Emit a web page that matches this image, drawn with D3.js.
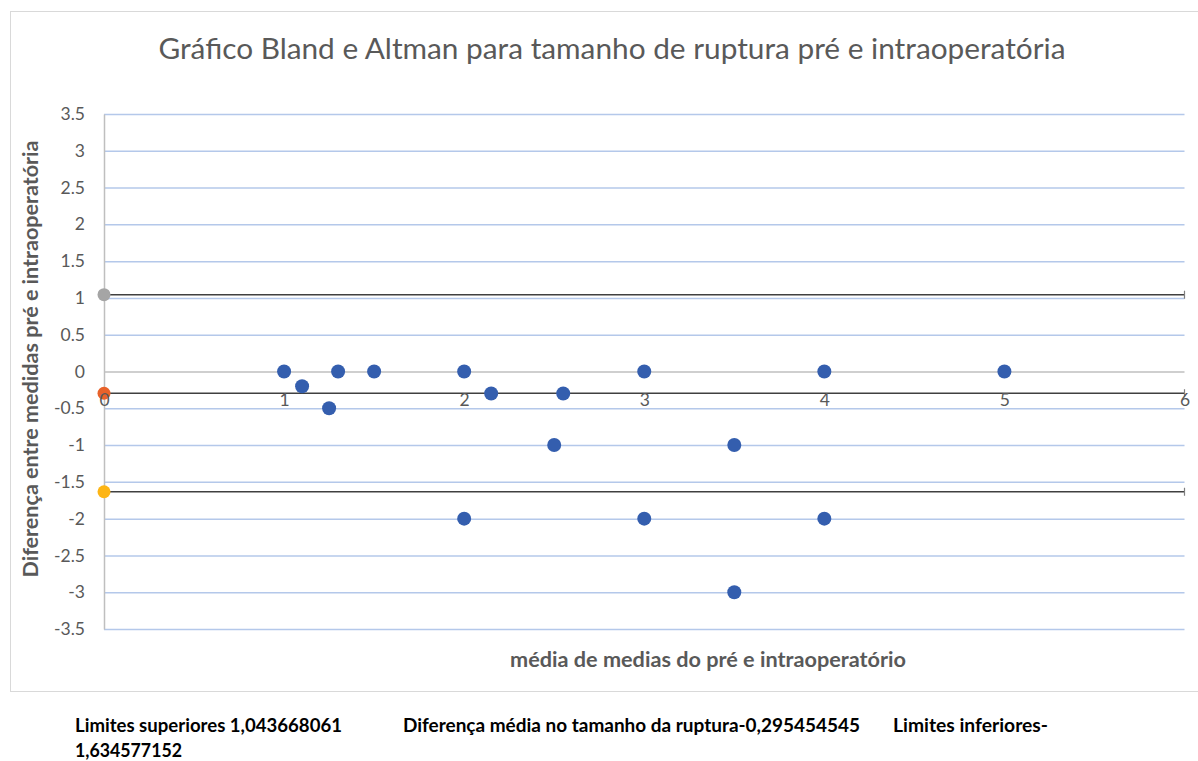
<!DOCTYPE html>
<html>
<head>
<meta charset="utf-8">
<script src="https://cdn.jsdelivr.net/npm/d3@7"></script>
<style>
  html, body { margin: 0; padding: 0; background: #fff; }
  svg { display: block; }
</style>
</head>
<body>
<svg id="chart" width="1198" height="761"></svg>
<script>
// ---- Data ----
const titleText = "Gráfico Bland e Altman para tamanho de ruptura pré e intraoperatória";
const yTitleText = "Diferença entre medidas pré e intraoperatória";
const xTitleText = "média de medias do pré e intraoperatório";

const meanValues = [1, 1.1, 1.25, 1.3, 1.5, 2, 2.15, 2.5, 2.55, 3, 2, 3, 3.5, 3.5, 4, 4, 5];
const diffValues = [0, -0.2, -0.5, 0, 0, 0, -0.3, -1, -0.3, 0, -2, -2, -1, -3, 0, -2, 0];

const upperLimit = 1.043668061;
const meanDiff = -0.295454545;
const lowerLimit = -1.634577152;
const refLines = [upperLimit, meanDiff, lowerLimit];
const refColors = ["#a5a5a5", "#e8622a", "#fdb515"];

const xTicks = [0, 1, 2, 3, 4, 5, 6];
const yTicks = [3.5, 3, 2.5, 2, 1.5, 1, 0.5, 0, -0.5, -1, -1.5, -2, -2.5, -3, -3.5];

const footerLine1 = ["Limites superiores 1,043668061", "Diferença média no tamanho da ruptura-0,295454545", "Limites inferiores-"];
const footerLine2 = "1,634577152";

// ---- Layout ----
const svg = d3.select("#chart");
const plotLeft = 104, plotRight = 1184.5, plotTop = 114, plotBottom = 629;

const x = d3.scaleLinear().domain([0, 6]).range([plotLeft, plotRight]);
const y = d3.scaleLinear().domain([-3.5, 3.5]).range([plotBottom, plotTop]);

const FONT = "Lato, 'Open Sans', sans-serif";

// chart frame
svg.append("rect")
  .attr("x", 10.5).attr("y", 11.5).attr("width", 1195).attr("height", 680)
  .attr("fill", "#fff").attr("stroke", "#d9d9d9").attr("stroke-width", 1);

// title
svg.append("text")
  .attr("x", 612).attr("y", 59)
  .attr("text-anchor", "middle")
  .attr("font-family", FONT)
  .attr("font-size", 29)
  .attr("fill", "#595959")
  .attr("textLength", 907).attr("lengthAdjust", "spacingAndGlyphs")
  .text(titleText);

// gridlines
const grid = svg.append("g")
  .attr("transform", `translate(${plotLeft},0)`)
  .call(d3.axisLeft(y).tickValues(yTicks).tickSize(-(plotRight - plotLeft)).tickFormat(""));
grid.select(".domain").remove();
grid.selectAll(".tick line")
  .attr("stroke", d => d === 0 ? "#bfbfbf" : "#b4c8ea")
  .attr("stroke-width", 1.5);

// y axis labels + line
const yAxis = svg.append("g")
  .attr("transform", `translate(${plotLeft},0)`)
  .call(d3.axisLeft(y).tickValues(yTicks).tickSize(0).tickPadding(19).tickFormat(d => String(d)));
yAxis.select(".domain").attr("stroke", "#bfbfbf").attr("stroke-width", 1.5);
yAxis.selectAll(".tick text")
  .attr("font-family", FONT)
  .attr("font-size", 17.5)
  .attr("fill", "#595959");

// reference lines (limits and mean) with end caps
const refG = svg.append("g");
refLines.forEach(v => {
  refG.append("line")
    .attr("x1", x(0)).attr("x2", x(6))
    .attr("y1", y(v)).attr("y2", y(v))
    .attr("stroke", "#404040").attr("stroke-width", 1.6);
  refG.append("line")
    .attr("x1", x(6)).attr("x2", x(6))
    .attr("y1", y(v) - 4).attr("y2", y(v) + 4)
    .attr("stroke", "#7f7f7f").attr("stroke-width", 1.2);
});

// data points
svg.append("g").selectAll("circle")
  .data(meanValues.map((m, i) => ({m, d: diffValues[i]})))
  .join("circle")
  .attr("cx", p => x(p.m))
  .attr("cy", p => y(p.d))
  .attr("r", 7)
  .attr("fill", "#345eae");

// reference points at x = 0
svg.append("g").selectAll("circle")
  .data(refLines)
  .join("circle")
  .attr("cx", x(0))
  .attr("cy", v => y(v))
  .attr("r", 6.5)
  .attr("fill", (v, i) => refColors[i]);

// x axis labels (crossing at mean difference)
const xAxis = svg.append("g")
  .attr("transform", `translate(0,${y(meanDiff)})`)
  .call(d3.axisBottom(x).tickValues(xTicks).tickSize(0).tickPadding(0).tickFormat(d => String(d)));
xAxis.select(".domain").remove();
xAxis.selectAll(".tick text")
  .attr("y", 12.5)
  .attr("dy", 0)
  .attr("font-family", FONT)
  .attr("font-size", 17.5)
  .attr("fill", "#595959");

// axis titles
svg.append("text")
  .attr("transform", `translate(38,359) rotate(-90)`)
  .attr("text-anchor", "middle")
  .attr("font-family", FONT)
  .attr("font-weight", "bold")
  .attr("font-size", 20)
  .attr("fill", "#595959")
  .attr("textLength", 437).attr("lengthAdjust", "spacingAndGlyphs")
  .text(yTitleText);

svg.append("text")
  .attr("x", 708).attr("y", 667)
  .attr("text-anchor", "middle")
  .attr("font-family", FONT)
  .attr("font-weight", "bold")
  .attr("font-size", 20)
  .attr("fill", "#595959")
  .attr("textLength", 396).attr("lengthAdjust", "spacingAndGlyphs")
  .text(xTitleText);

// footer text
const footerX = [75, 403, 893];
const footerW = [267, 457, 155];
footerLine1.forEach((t, i) => {
  svg.append("text")
    .attr("x", footerX[i]).attr("y", 732)
    .attr("font-family", FONT)
    .attr("font-weight", "bold")
    .attr("font-size", 18)
    .attr("fill", "#000")
    .attr("textLength", footerW[i]).attr("lengthAdjust", "spacingAndGlyphs")
    .text(t);
});
svg.append("text")
  .attr("x", 75).attr("y", 757)
  .attr("font-family", FONT)
  .attr("font-weight", "bold")
  .attr("font-size", 18)
  .attr("fill", "#000")
  .attr("textLength", 107).attr("lengthAdjust", "spacingAndGlyphs")
  .text(footerLine2);
</script>
</body>
</html>
